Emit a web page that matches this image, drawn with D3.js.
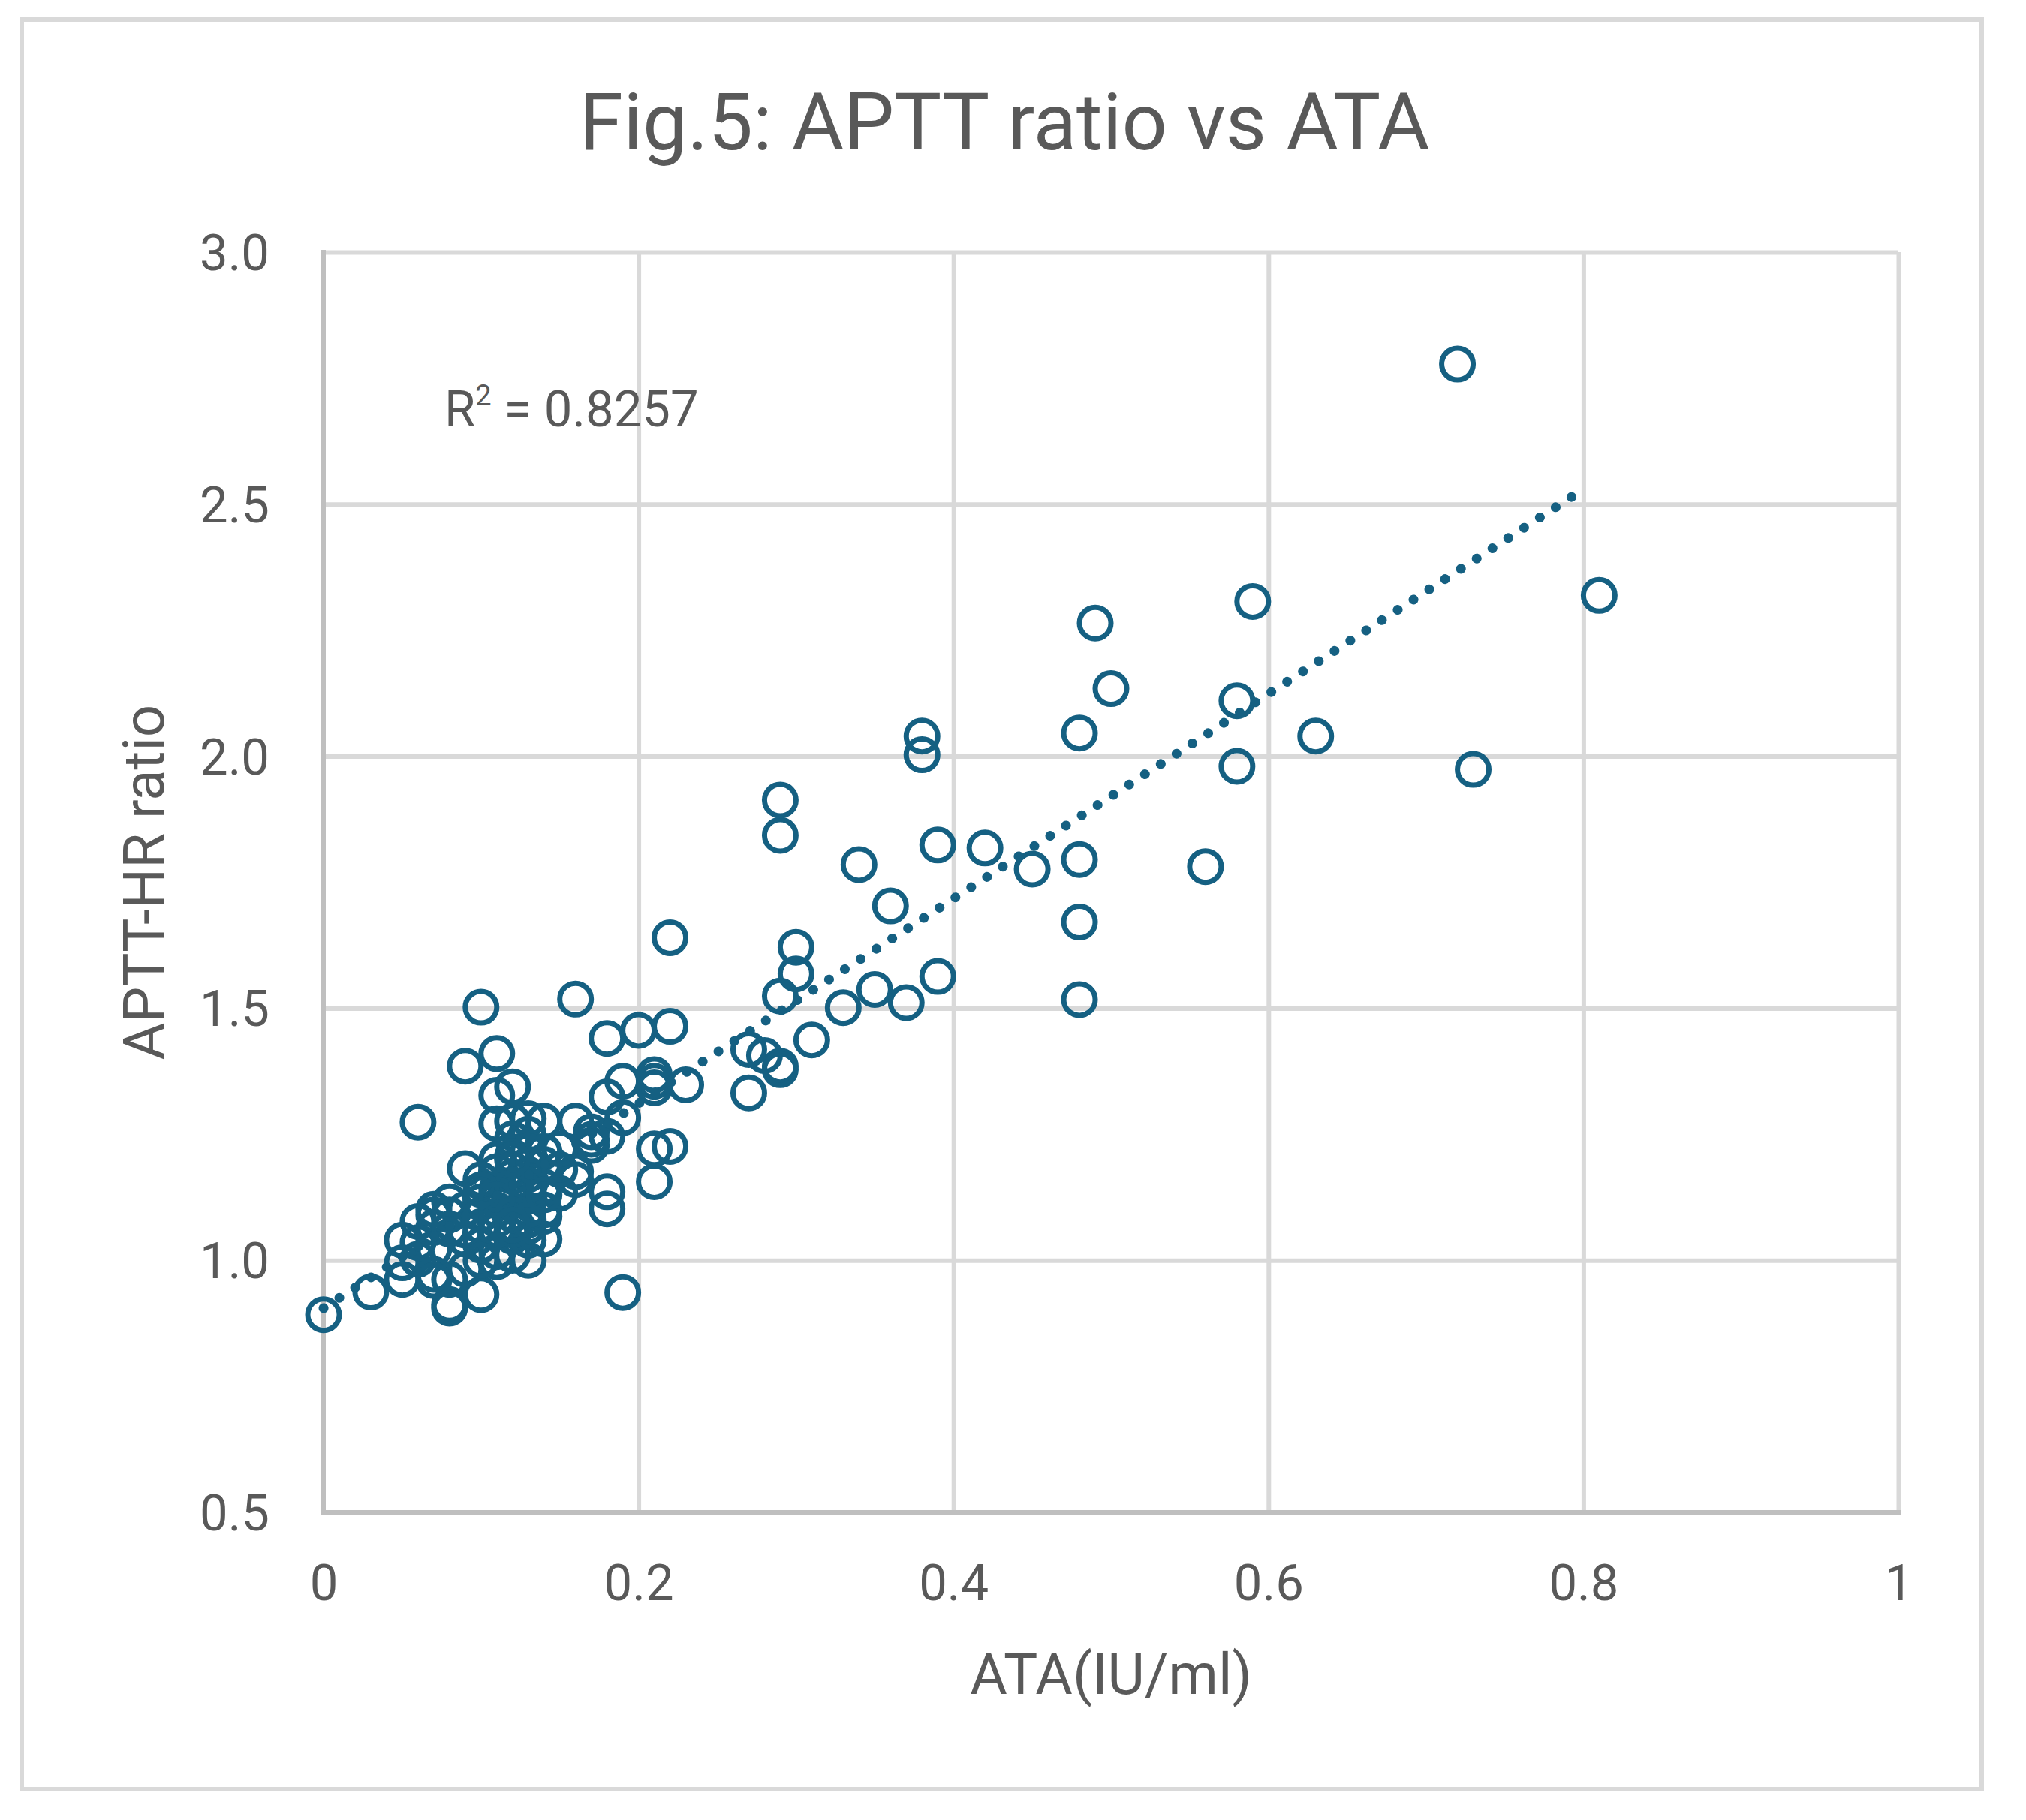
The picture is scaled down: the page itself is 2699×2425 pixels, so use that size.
<!DOCTYPE html>
<html>
<head>
<meta charset="utf-8">
<script src="https://cdn.jsdelivr.net/npm/d3@7"></script>
<style>
  body { margin:0; background:#fff; }
  text { font-family: Roboto, "Liberation Sans", sans-serif; fill:#595959; }
  .grid line { stroke:#d9d9d9; stroke-width:6; }
  .grid path { display:none; }
  .tick_lbl text { font-size:67px; }
</style>
</head>
<body>
<svg></svg>
<script>
// ATA(IU/ml) vs APTT-HR ratio
const ata = [
  0.00,0.03,0.05,0.05,0.06,0.06,0.07,0.08,0.08,0.09,0.09,0.10,0.10,0.11,0.11,0.12,0.11,0.12,0.13,0.14,
  0.16,0.16,0.18,0.20,0.22,0.22,0.21,0.21,0.21,0.23,0.19,0.18,0.19,0.17,0.17,0.18,0.17,0.21,0.22,0.21,
  0.18,0.18,0.16,0.16,0.15,0.14,0.14,0.13,0.19,0.27,0.28,0.29,0.29,0.27,0.29,0.29,0.29,0.30,0.30,0.31,
  0.33,0.34,0.35,0.36,0.37,0.38,0.38,0.39,0.39,0.42,0.45,0.48,0.48,0.48,0.48,0.49,0.50,0.56,0.58,0.58,
  0.59,0.63,0.72,0.73,0.81,0.15,0.13,0.11,0.12,0.13,0.12,0.14,0.13,0.12,0.11,0.10,0.09,0.08,0.07,0.07,
  0.06,0.05,0.07,0.08,0.09,0.10,0.11,0.12,0.13,0.11,0.14,0.09,0.08,0.07,0.06,0.08,0.07,0.10,0.11,0.12,
  0.13,0.12,0.11,0.10,0.12,0.13,0.14,0.11,0.09,0.10,0.13,0.14,0.12,0.10,0.12,0.13,0.11,0.15,
  0.12,0.13,0.11,0.12,0.10,0.13,0.12,0.11,0.14,0.12
];
const aptt_ratio = [
  0.892,0.937,0.962,0.995,1.035,1.274,1.090,0.912,0.905,1.385,1.182,1.502,0.932,1.410,1.327,1.344,1.271,1.276,1.281,1.276,
  1.518,1.276,1.440,1.456,1.464,1.640,1.368,1.355,1.342,1.348,1.355,1.324,1.283,1.255,1.240,1.246,1.228,1.221,1.226,1.156,
  1.136,1.102,1.176,1.160,1.133,1.216,1.042,1.000,0.936,1.418,1.406,1.385,1.378,1.332,1.524,1.843,1.913,1.621,1.568,1.437,
  1.501,1.785,1.537,1.703,1.511,2.003,2.040,1.824,1.563,1.818,1.776,2.046,1.795,1.671,1.517,2.264,2.134,1.781,2.110,1.980,
  2.307,2.040,2.778,1.974,2.319,1.221,1.250,1.176,1.206,1.216,1.241,1.146,1.170,1.166,1.141,1.116,1.101,1.116,1.101,1.065,
  1.077,1.040,1.022,1.062,1.042,1.067,1.017,1.047,1.067,0.997,1.087,0.982,0.962,0.972,1.002,1.090,0.960,1.090,1.100,1.120,
  1.130,1.180,1.200,1.160,1.060,1.040,1.100,1.060,1.060,1.030,1.190,1.190,1.010,1.000,1.140,1.100,1.130,1.180,
  1.150,1.150,1.080,1.090,1.140,1.080,1.200,1.120,1.130,1.070
];
// linear trendline as shown (Excel), and its label
const trend_coef = {intercept:0.905, slope:2.031};
const trend_range = [0, 0.8];
const r2_value = '0.8257';

const x_ticks = [0, 0.2, 0.4, 0.6, 0.8, 1];
const y_ticks = [0.5, 1.0, 1.5, 2.0, 2.5, 3.0];
const x_domain = [0, 1];
const y_domain = [0.5, 3.0];

const chart_title = 'Fig.5: APTT ratio vs ATA';
const x_title = 'ATA(IU/ml)';
const y_title = 'APTT-HR ratio';

const W = 2699, H = 2425;
const plot = {left:431, right:2529, top:336, bottom:2015};
const mark_color = '#156082';

let svg = d3.select('svg').attr('width', W).attr('height', H);

// outer chart border
svg.append('rect').attr('x',29).attr('y',26).attr('width',2640-29).attr('height',2384-26)
  .attr('fill','#fff').attr('stroke','#d9d9d9').attr('stroke-width',6);

let x_scale = d3.scaleLinear().domain(x_domain).range([plot.left, plot.right]);
let y_scale = d3.scaleLinear().domain(y_domain).range([plot.bottom, plot.top]);

// gridlines
svg.append('g').attr('class','grid')
  .attr('transform','translate(0,'+plot.bottom+')')
  .call(d3.axisBottom(x_scale).tickValues(x_ticks.filter(d=>d>0)).tickSize(-(plot.bottom-plot.top)).tickFormat(''));
svg.append('g').attr('class','grid')
  .attr('transform','translate('+plot.left+',0)')
  .call(d3.axisLeft(y_scale).tickValues(y_ticks.filter(d=>d>0.5)).tickSize(-(plot.right-plot.left)).tickFormat(''));

// axis lines
svg.append('line').attr('x1',plot.left).attr('x2',plot.left).attr('y1',plot.top-3).attr('y2',plot.bottom+3)
  .attr('stroke','#bfbfbf').attr('stroke-width',6);
svg.append('line').attr('x1',plot.left-3).attr('x2',plot.right+3).attr('y1',plot.bottom).attr('y2',plot.bottom)
  .attr('stroke','#bfbfbf').attr('stroke-width',6);

// tick labels
let x_axis = svg.append('g').attr('class','tick_lbl')
  .attr('transform','translate(0,'+plot.bottom+')')
  .call(d3.axisBottom(x_scale).tickValues(x_ticks).tickSize(0).tickPadding(117).tickFormat(d=>String(d)));
x_axis.select('.domain').remove();
x_axis.selectAll('text').attr('dy',0).attr('fill','#595959');

let y_axis = svg.append('g').attr('class','tick_lbl')
  .attr('transform','translate('+plot.left+',0)')
  .call(d3.axisLeft(y_scale).tickValues(y_ticks).tickSize(0).tickPadding(72).tickFormat(d3.format('.1f')));
y_axis.select('.domain').remove();
y_axis.selectAll('text').attr('dy','0.35em').attr('fill','#595959');

// points
svg.append('g').selectAll('circle').data(ata.map((d,i)=>[d, aptt_ratio[i]])).enter()
  .append('circle')
  .attr('cx', d=>x_scale(d[0])).attr('cy', d=>y_scale(d[1])).attr('r',21)
  .attr('fill','none').attr('stroke',mark_color).attr('stroke-width',7);

// dotted trendline
let trend_pts = trend_range.map(x=>[x, trend_coef.intercept + trend_coef.slope*x]);
svg.append('path').datum(trend_pts)
  .attr('d', d3.line().x(d=>x_scale(d[0])).y(d=>y_scale(d[1])))
  .attr('fill','none').attr('stroke',mark_color).attr('stroke-width',13)
  .attr('stroke-linecap','round').attr('stroke-dasharray','0.1 25');

// R squared label
let r2 = svg.append('text').attr('x',592).attr('y',568).style('font-size','67px');
r2.append('tspan').text('R');
r2.append('tspan').attr('dy',-28).style('font-size','38px').text('2');
r2.append('tspan').attr('dy',28).text(' = '+r2_value);

// titles
svg.append('text').attr('x',1338).attr('y',199).attr('text-anchor','middle')
  .style('font-size','106px').text(chart_title);
svg.append('text').attr('x',(plot.left+plot.right)/2).attr('y',2257).attr('text-anchor','middle')
  .style('font-size','76px').text(x_title);
svg.append('text').attr('transform','translate(218,'+((plot.top+plot.bottom)/2)+') rotate(-90)')
  .attr('text-anchor','middle').style('font-size','76px').text(y_title);
</script>
</body>
</html>
